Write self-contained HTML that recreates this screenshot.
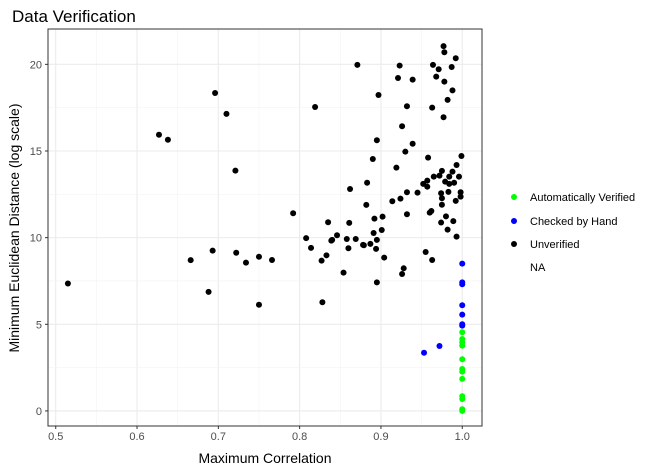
<!DOCTYPE html>
<html><head><meta charset="utf-8"><style>
body{margin:0;background:#fff;font-family:"Liberation Sans",Arial,sans-serif;}
svg text{font-family:"Liberation Sans",Arial,sans-serif;}
</style></head><body>
<svg id="chart" width="658" height="470" xmlns="http://www.w3.org/2000/svg">
<rect width="658" height="470" fill="#fff"/>
<text x="12" y="22" font-size="17" fill="#000">Data Verification</text>
<g id="grid"></g><g id="pts"></g><g id="axes"></g>
<text x="265" y="463" font-size="14" text-anchor="middle" fill="#000">Maximum Correlation</text>
<text transform="translate(19,228) rotate(-90)" font-size="14" text-anchor="middle" fill="#000">Minimum Euclidean Distance (log scale)</text>
<g font-size="11" fill="#000">
<circle cx="514" cy="197" r="3" fill="#00ff00"/>
<text x="530" y="201">Automatically Verified</text>
<circle cx="514" cy="221" r="3" fill="#0000ff"/>
<text x="530" y="225">Checked by Hand</text>
<circle cx="514" cy="244" r="3" fill="#000"/>
<text x="530" y="248">Unverified</text>
<text x="530" y="271">NA</text>
</g>
</svg>
<script>
const xTicks=[0.5,0.6,0.7,0.8,0.9,1.0];
const xTickLabels=["0.5","0.6","0.7","0.8","0.9","1.0"];
const yTicks=[0,5,10,15,20];
const yTickLabels=["0","5","10","15","20"];
const unverifiedX=[0.515,0.627,0.638,0.696,0.71,0.721,0.666,0.693,0.688,0.722,0.734,0.75,0.75,0.766,0.792,0.819,0.808,0.814,0.827,0.833,0.828,0.835,
0.871,0.897,0.895,0.890,0.883,0.862,0.882,0.892,0.902,0.861,0.901,0.891,0.846,0.84,0.858,0.869,0.878,0.887,0.895,0.86,0.894,
0.923,0.921,0.939,0.932,0.926,0.939,0.93,0.919,0.914,0.924,0.932,0.945,0.932,0.96,0.962,0.958,0.963,0.964,0.971,0.968,0.977,0.978,0.992,0.987,0.978,0.988,0.982,0.977,
0.999,0.993,0.988,0.996,0.984,0.975,0.972,0.965,0.957,0.952,0.957,0.979,0.984,0.99,0.974,0.983,0.998,0.998,0.975,0.992,0.975,0.98,0.989,0.974,0.982,0.993,
0.854,0.895,0.928,0.926,0.955,0.963,0.904,0.879,0.839];
const unverifiedY=[7.35,15.94,15.65,18.35,17.14,13.87,8.7,9.25,6.87,9.13,8.56,8.9,6.13,8.71,11.41,17.54,9.97,9.41,8.67,8.98,6.27,10.89,
19.97,18.23,15.62,14.54,13.17,12.81,11.89,11.1,11.21,10.85,10.44,10.27,10.14,9.87,9.92,9.92,9.58,9.64,9.87,9.39,9.35,
19.93,19.21,19.12,17.58,16.43,15.42,14.96,14.04,12.1,12.25,12.62,12.6,11.35,11.44,11.54,14.62,17.5,19.97,19.72,19.29,21.05,20.7,20.35,19.85,19.0,18.5,17.95,16.95,
14.71,14.19,13.81,13.52,13.52,13.85,13.58,13.52,13.29,13.1,12.94,13.23,13.1,13.17,12.56,12.64,12.62,12.37,12.27,12.12,11.9,11.23,10.95,10.87,10.46,10.06,
7.98,7.42,8.23,7.9,9.17,8.71,8.85,9.56,9.83];
const handX=[1.0,1.0,1.0,1.0,1.0,1.0,1.0,0.953,0.972];
const handY=[8.5,7.42,7.31,6.1,5.56,5.0,4.92,3.36,3.75];
const autoX=[1,1,1,1,1,1,1,1,1,1,1,1];
const autoY=[4.54,4.15,3.96,3.77,2.98,2.42,2.27,1.85,0.85,0.69,0.0,0.1];

const L=48,R=482,T=29,B=426;
const xMin=0.4905,xMax=1.0243,yMin=-0.87,yMax=22.04;
const sx=v=>L+(v-xMin)/(xMax-xMin)*(R-L);
const sy=v=>B-(v-yMin)/(yMax-yMin)*(B-T);
const NS="http://www.w3.org/2000/svg";
function mk(tag,attrs,parent){const e=document.createElementNS(NS,tag);for(const k in attrs)e.setAttribute(k,attrs[k]);parent.appendChild(e);return e;}
const grid=document.getElementById('grid'),pts=document.getElementById('pts'),axes=document.getElementById('axes');
let bg=mk('rect',{x:L,y:T,width:R-L,height:B-T,fill:'#fff'},grid);


for(let i=0;i<xTicks.length;i++){
  const x=sx(xTicks[i]);
  mk('line',{x1:x,x2:x,y1:T,y2:B,stroke:'#ebebeb','stroke-width':1.1},grid);
  if(i<xTicks.length-1){const xm=sx(xTicks[i]+0.05);mk('line',{x1:xm,x2:xm,y1:T,y2:B,stroke:'#f3f3f3','stroke-width':0.6},grid);}
  mk('line',{x1:x,x2:x,y1:B,y2:B+3,stroke:'#333','stroke-width':1},axes);
  const t=mk('text',{x:x,y:B+14,'font-size':11,fill:'#4d4d4d','text-anchor':'middle'},axes);
  t.textContent=xTickLabels[i];
  
  
}
for(let i=0;i<yTicks.length;i++){
  const y=sy(yTicks[i]);
  mk('line',{x1:L,x2:R,y1:y,y2:y,stroke:'#ebebeb','stroke-width':1.1},grid);
  const ym=sy(yTicks[i]+2.5);
  if(ym>T) mk('line',{x1:L,x2:R,y1:ym,y2:ym,stroke:'#f3f3f3','stroke-width':0.6},grid);
  mk('line',{x1:L-3,x2:L,y1:y,y2:y,stroke:'#333','stroke-width':1},axes);
  const t=mk('text',{x:L-6,y:y+4,'font-size':11,fill:'#4d4d4d','text-anchor':'end'},axes);
  t.textContent=yTickLabels[i];
  
  
}
const border=mk('rect',{x:L,y:T,width:R-L,height:B-T,fill:'none',stroke:'#333','stroke-width':1},axes);


function draw(xs,ys,col,name){for(let i=0;i<xs.length;i++){const c=mk('circle',{cx:sx(xs[i]),cy:sy(ys[i]),r:3,fill:col},pts);

}}
draw(unverifiedX,unverifiedY,'#000','point-unverified');
draw(handX,handY,'#0000ff','point-checked-by-hand');
draw(autoX,autoY,'#00ff00','point-auto-verified');
</script>
</body></html>
